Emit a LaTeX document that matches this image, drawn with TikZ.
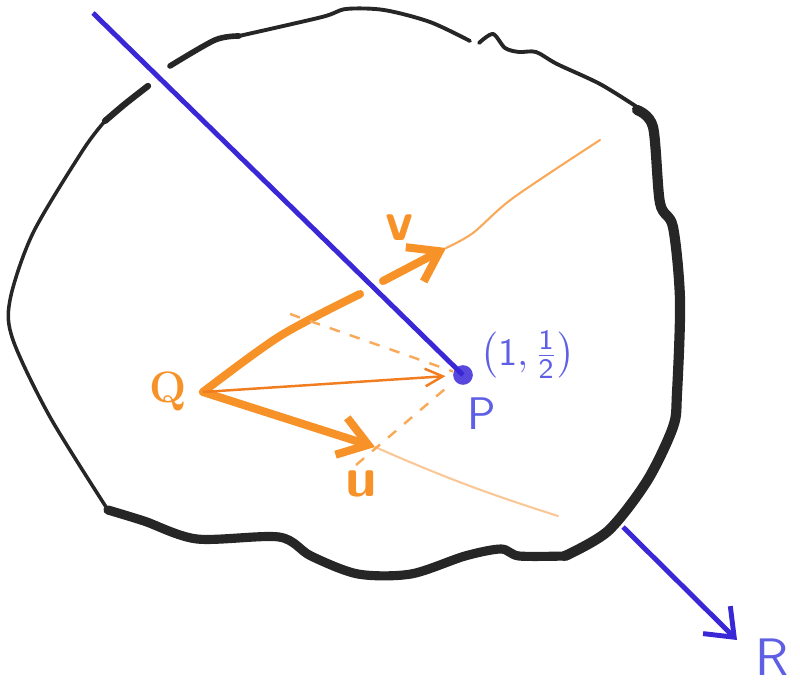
\documentclass[tikz,border=0pt]{standalone}
\usepackage{amsmath}
\usepackage{xcolor}
\usepackage{tikz}
\usetikzlibrary{arrows.meta}
\definecolor{penorange}{RGB}{247,146,40}
\definecolor{darkorange}{RGB}{242,125,30}
\definecolor{paleorange}{RGB}{248,170,90}
\definecolor{fadeorange}{RGB}{250,200,150}
\definecolor{penblue}{RGB}{58,40,215}
\definecolor{inkblue}{RGB}{95,95,230}

\begin{document}
\begin{tikzpicture}[x=0.01cm,y=-0.01cm]
\tikzset{blob/.style={draw=black!85,line cap=round,line join=round}}
\tikzset{vecline/.style={penorange,line width=2.3pt,line cap=round}}
\tikzset{extline/.style={paleorange,line width=0.6pt,line cap=round}}
\tikzset{helper/.style={paleorange,line width=0.7pt,dash pattern=on 3pt off 3pt}}
\tikzset{barb/.style={-{Straight Barb[length=8pt,width=11pt]}}}
\tikzset{label/.style={inner sep=0pt,font=\sffamily\bfseries\fontsize{16}{18}\selectfont}}

\useasboundingbox (0,0) rectangle (800,682);

% the region
\draw[blob,line width=1.8pt] plot[smooth] coordinates {(148,86) (125,104) (105,121)};
\draw[blob,line width=1pt] plot[smooth] coordinates {(105,121) (83,150) (33,233) (10,300) (13,340) (50,417) (108,510)};
\draw[blob,line width=1.6pt] plot[smooth] coordinates {(170,66) (215,40) (239,36)};
\draw[blob,line width=1.1pt] plot[smooth] coordinates {(239,36) (322,17) (346,9) (384,10) (430,22) (470,41)};
\draw[blob,line width=1.1pt] plot[smooth] coordinates {(479,43) (493,34) (505,48) (519,52) (536,52) (557,64) (600,84) (637,107)};
\draw[blob,line width=2.9pt] plot[smooth] coordinates {(637,110) (653,127) (660,203) (673,227) (680,300) (677,393) (673,427) (647,481) (608,531) (565,556)};
\draw[blob,line width=2.6pt] plot[smooth] coordinates {(565,556) (519,556) (501,549) (465,556) (411,574) (358,574) (311,556) (279,537) (197,539) (144,521) (108,510)};

\coordinate (O) at (203,392);
\coordinate (vgapA) at (360,294);
\coordinate (vgapB) at (383,281);
\coordinate (vtip) at (446,248);
\coordinate (vend) at (600,140);
\coordinate (utip) at (375,447);
\coordinate (uend) at (558,516);
\coordinate (blueA) at (93,13);
\coordinate (blueB) at (623,527);
\coordinate (Rtip) at (737,640);
\coordinate (dashA) at (290,314);
\coordinate (dashB) at (356,465);
\coordinate (dashC) at (452,383);

\node[circle,fill=penblue!85,inner sep=0pt,minimum size=14\pgflinewidth] (Pdot) at (463,375) {};

% the two vectors and their lines
\draw[vecline] plot[smooth] coordinates {(O) (280,336) (vgapA)};
\draw[vecline,barb] (vgapB) -- (vtip);
\draw[extline] plot[smooth] coordinates {(vtip) (473,233) (513,198) (vend)};
\draw[vecline,barb] (O) -- (utip);
\draw[extline,fadeorange] (utip) to[bend right=3] (uend);
\draw[helper] (dashA) -- (Pdot);
\draw[helper] (dashB) -- (dashC);
\draw[darkorange,line width=0.7pt,-{Straight Barb[length=5pt,width=5pt]},shorten >=2pt] (O) -- (Pdot);

% the ray through P
\draw[penblue,line width=1.4pt] (blueA) -- (Pdot.center);
\draw[penblue,line width=1.4pt,-{Straight Barb[length=7pt,width=11pt]}] (blueB) -- (Rtip);

\node[inner sep=0pt,anchor=base,text=penorange,font=\bfseries\fontsize{12.5}{14}\selectfont] (Q) at (168,402) {Q};
\node[label,text=penorange] (vlab) at (400,228) {v};
\node[label,text=penorange] (ulab) at (361,484) {u};
\node[inner sep=0pt,text=inkblue,font=\sffamily\fontsize{13}{15}\selectfont] (P) at (482,414) {P};
\node[inner sep=0pt,text=inkblue,font=\sffamily\fontsize{15}{17}\selectfont] (R) at (772,657) {R};
\node[inner sep=0pt,text=inkblue,font=\sffamily\fontsize{11}{13}\selectfont] (coords) at (528,355) {$\left(\mathsf{1},\frac{\mathsf{1}}{\mathsf{2}}\right)$};
\end{tikzpicture}
\end{document}
